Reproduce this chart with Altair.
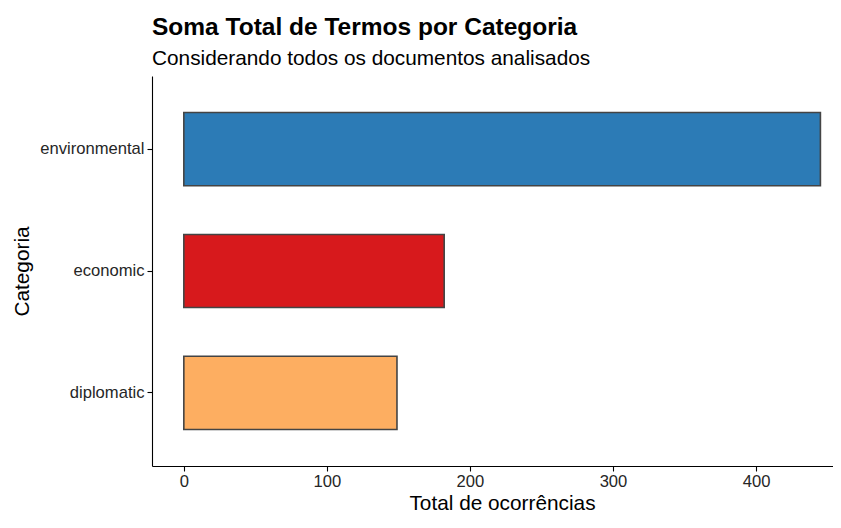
import altair as alt
import pandas as pd

categories = ["environmental", "economic", "diplomatic"]
totals = [445, 182, 149]
colors = ["#2C7BB6", "#D7191C", "#FDAE61"]

df = pd.DataFrame({"Categoria": categories, "Total": totals})

FONT = "Liberation Sans"
LABEL = "#262626"

chart = alt.Chart(df).mark_bar(
    stroke="#444444", strokeWidth=1.6, opacity=1
).encode(
    y=alt.Y(
        "Categoria:N",
        sort=categories,
        scale=alt.Scale(paddingInner=0.4, paddingOuter=0.3),
        axis=alt.Axis(
            title="Categoria",
            titleFontSize=20.8,
            titleFontWeight="normal",
            titleColor="#000000",
            titleFont=FONT,
            titleX=-120,
            titleBaseline="bottom",
            labelFontSize=16.6,
            labelColor=LABEL,
            labelFont=FONT,
            labelPadding=3,
            tickSize=5,
            tickColor="#000000",
            tickWidth=1.1,
            domainColor="#000000",
            domainWidth=1.1,
            grid=False,
        ),
    ),
    x=alt.X(
        "Total:Q",
        scale=alt.Scale(domain=[-22.25, 453.8], nice=False, zero=False),
        axis=alt.Axis(
            title="Total de ocorrências",
            values=[0, 100, 200, 300, 400],
            titleFontSize=20.8,
            titleFontWeight="normal",
            titleColor="#000000",
            titleFont=FONT,
            titleX=350,
            titleY=27,
            titleBaseline="top",
            labelFontSize=16.6,
            labelColor=LABEL,
            labelFont=FONT,
            labelPadding=2,
            tickSize=5,
            tickColor="#000000",
            tickWidth=1.1,
            domainColor="#000000",
            domainWidth=1.1,
            grid=False,
        ),
    ),
    x2=alt.datum(0),
    color=alt.Color(
        "Categoria:N",
        scale=alt.Scale(domain=categories, range=colors),
        legend=None,
    ),
).properties(
    width=681,
    height=390,
    background="#FFFFFF",
    title=alt.TitleParams(
        text="Soma Total de Termos por Categoria",
        subtitle="Considerando todos os documentos analisados",
        anchor="start",
        frame="group",
        font=FONT,
        fontSize=24.5,
        fontWeight="bold",
        color="#000000",
        subtitleFont=FONT,
        subtitleFontSize=20.8,
        subtitleColor="#000000",
        subtitlePadding=9,
        offset=6,
    ),
    autosize=alt.AutoSizeParams(type="none"),
    padding={"left": 144, "top": 68, "right": 0, "bottom": 50},
).configure_view(strokeWidth=0)

chart.save("out.html", embed_options={"renderer": "svg", "actions": False})
